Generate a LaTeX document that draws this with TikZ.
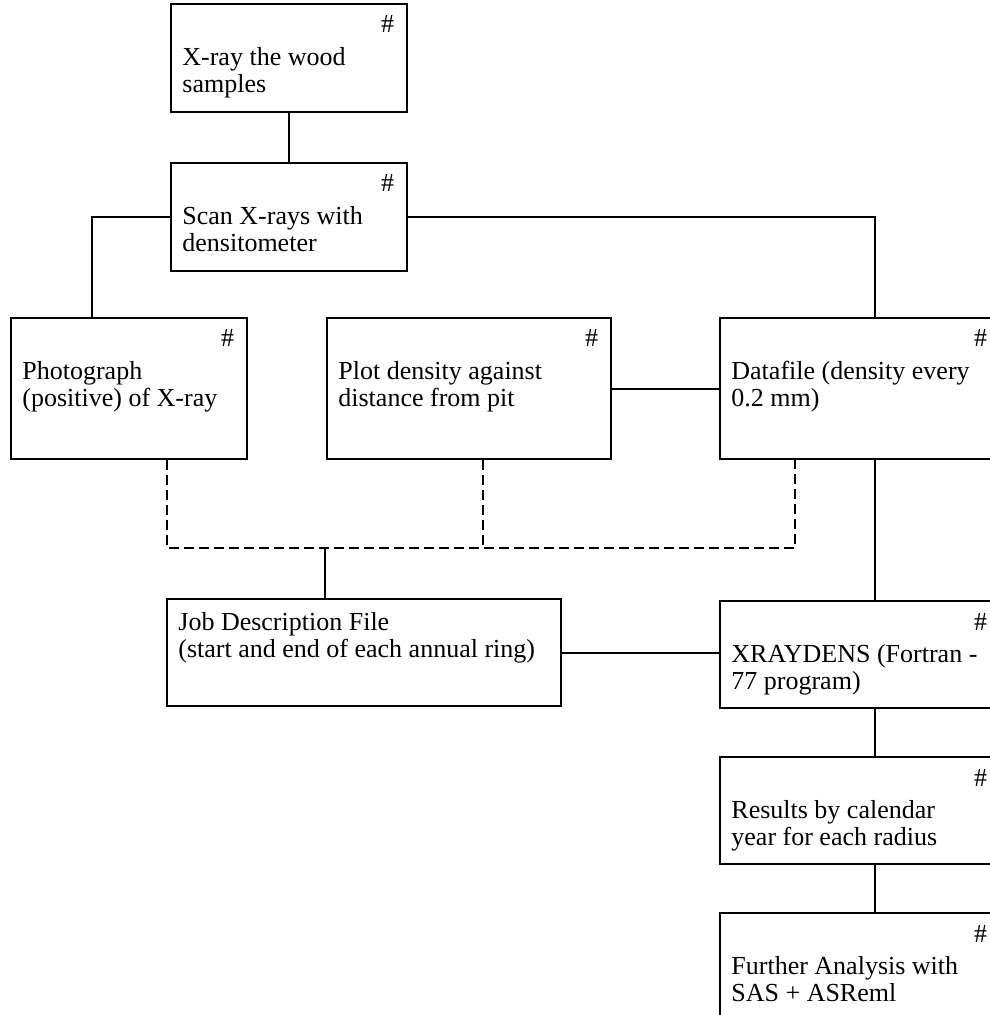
\documentclass[tikz,border=0pt]{standalone}
\usepackage{fontspec}
\setmainfont{Liberation Serif}
\usepackage{tikz}
\usetikzlibrary{positioning, calc}

\begin{document}
\begin{tikzpicture}[x=0.5pt, y=-0.5pt,
    font=\fontsize{13}{13.5}\selectfont,
    wbox/.style={draw, line width=1.2pt, anchor=north west, inner sep=0pt,
                 minimum width=118pt, minimum height=54pt},
    btext/.style={anchor=north west, align=left, inner sep=0pt},
    hashlab/.style={anchor=base east, inner sep=0pt},
    conn/.style={line width=1.1pt},
    dashconn/.style={line width=1pt, dash pattern=on 5pt off 2.5pt}]

    \useasboundingbox (0,0) rectangle (989,1015);

    % Top boxes
    \node[wbox] (xray) at (170,3) {};
    \node[wbox] (scan) at (170,162) {};

    % Second row
    \node[wbox, minimum height=70.5pt] (photo) at (10,317) {};
    \node[wbox, minimum width=142pt, minimum height=70.5pt] (plot) at (326,317) {};
    \node[wbox, minimum width=140pt, minimum height=70.5pt] (data) at (719,317) {};

    % Third row and right column
    \node[wbox, minimum width=197pt, minimum height=53.5pt] (job) at (166,598) {};
    \node[wbox, minimum width=140pt, minimum height=53.5pt] (xrd) at (719,600) {};
    \node[wbox, minimum width=140pt, minimum height=53.5pt] (res) at (719,756) {};
    \node[wbox, minimum width=140pt, minimum height=60pt] (fur) at (719,912) {};

    % Texts
    \foreach \b/\t in {xray/{X-ray the wood\\samples},
                       scan/{Scan X-rays with\\densitometer},
                       photo/{Photograph\\(positive) of X-ray},
                       plot/{Plot density against\\distance from pit},
                       data/{Datafile (density every\\0.2 mm)},
                       xrd/{XRAYDENS (Fortran -\\77 program)},
                       res/{Results by calendar\\year for each radius},
                       fur/{Further Analysis with\\SAS + ASReml}}{
      \node[btext] (\b-txt) at ($(\b.north west)+(12,43)$) {\strut\t};
      \node[hashlab] (\b-hash) at ($(\b.north east)+(-14,30)$) {\#};
    }
    \node[btext] (job-txt) at ($(job.north west)+(12,13)$)
      {\strut Job Description File\\(start and end of each annual ring)};

    % Solid connectors
    \draw[conn] (xray.south) -- (scan.north);
    \draw[conn] (scan.west) -| ($(photo.north west)+(82,0)$);
    \draw[conn] (scan.east) -| ($(data.north west)+(156,0)$);
    \draw[conn] (plot.east) -- (plot.east -| data.west);
    \draw[conn] ($(data.south west)+(156,0)$) -- ($(xrd.north west)+(156,0)$);
    \draw[conn] (job.east) -- (job.east -| xrd.west);
    \draw[conn] ($(xrd.south west)+(156,0)$) -- ($(res.north west)+(156,0)$);
    \draw[conn] ($(res.south west)+(156,0)$) -- ($(fur.north west)+(156,0)$);

    % Dashed collector to the job file
    \coordinate (bus) at (325,548);
    \coordinate (photodrop) at ($(photo.south west)+(157,0)$);
    \coordinate (plotdrop) at ($(plot.south west)+(157,0)$);
    \coordinate (datadrop) at ($(data.south west)+(76,0)$);
    \draw[dashconn] (photodrop) |- (bus) -| (datadrop);
    \draw[dashconn] (plotdrop) -- (plotdrop |- bus);
    \draw[conn] (bus) -- ($(job.north west)+(159,0)$);

\end{tikzpicture}
\end{document}
